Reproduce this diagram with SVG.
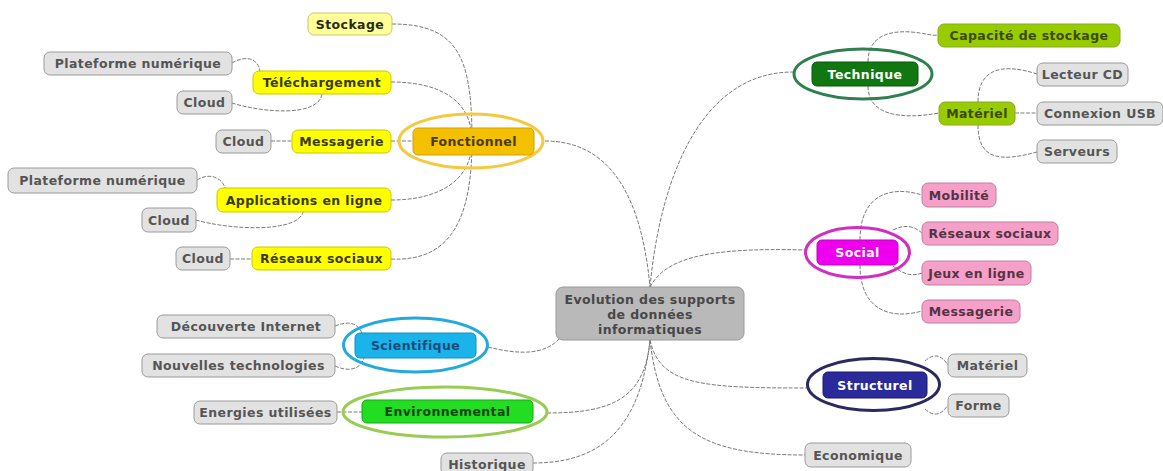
<svg xmlns="http://www.w3.org/2000/svg" width="1163" height="471" viewBox="0 0 1163 471">
<style>
text{font-family:"DejaVu Sans","Liberation Sans",sans-serif;font-weight:bold;font-size:12.5px;text-anchor:middle;dominant-baseline:central;letter-spacing:0.4px}
.c{fill:none;stroke:#7a7a7a;stroke-width:1;stroke-dasharray:4 1.5}
.gray rect{fill:#e2e2e2;stroke:#9a9a9a;stroke-width:1}
.gray text{fill:#555}
.yel rect{fill:#ffff00;stroke:#c8c800;stroke-width:1}
.yel text{fill:#3a3a10}
.pale rect{fill:#ffff99;stroke:#c8c870;stroke-width:1}
.pale text{fill:#2a2a10}
.lime rect{fill:#99cc00;stroke:#88aa22;stroke-width:1}
.lime text{fill:#3a4a00}
.pink rect{fill:#f4a0c8;stroke:#c080a0;stroke-width:1}
.pink text{fill:#553344}
.ell{fill:none;stroke-width:3}
</style>
<rect width="1163" height="471" fill="#ffffff"/>
<g id="connectors">
<path class="c" d="M545,141 C600,141 640,180 650,287"/>
<path class="c" d="M650,287 C660,180 700,72 793,72"/>
<path class="c" d="M650,287 C665,260 700,247 805,250"/>
<path class="c" d="M488,347 C520,355 545,355 560,338"/>
<path class="c" d="M547,413 C610,413 645,400 650,340"/>
<path class="c" d="M533,463 C600,463 640,430 650,340"/>
<path class="c" d="M650,340 C660,385 700,388 807,388"/>
<path class="c" d="M650,340 C660,430 700,455 805,455"/>
<path class="c" d="M392,24 C460,24 472,60 472,141"/>
<path class="c" d="M391,82 C440,82 472,100 472,141"/>
<path class="c" d="M391,141 L413,141"/>
<path class="c" d="M391,200 C440,200 472,180 472,141"/>
<path class="c" d="M391,259 C450,262 472,220 472,141"/>
<path class="c" d="M232,63 C245,55 258,58 260,71"/>
<path class="c" d="M232,103 C260,112 318,118 322,94"/>
<path class="c" d="M271,141 L292,141"/>
<path class="c" d="M197,180 C210,172 222,178 225,188"/>
<path class="c" d="M196,220 C230,230 298,233 303,212"/>
<path class="c" d="M230,259 L252,259"/>
<path class="c" d="M335,326 C350,320 358,324 362,333"/>
<path class="c" d="M335,366 C348,372 360,370 364,358"/>
<path class="c" d="M337,412 L362,412"/>
<path class="c" d="M868,62 C868,30 900,30 920,33 C928,34 932,36 938,35"/>
<path class="c" d="M868,86 C868,115 900,120 939,113"/>
<path class="c" d="M978,102 C978,70 1000,62 1037,74"/>
<path class="c" d="M1015,113 L1037,113"/>
<path class="c" d="M978,125 C978,160 1000,162 1037,152"/>
<path class="c" d="M860,240 C860,195 890,185 922,195"/>
<path class="c" d="M893,230 C905,224 914,226 922,233"/>
<path class="c" d="M893,266 C905,276 914,276 922,273"/>
<path class="c" d="M860,265 C860,310 890,320 922,311"/>
<path class="c" d="M925,361 C935,352 942,356 948,365"/>
<path class="c" d="M925,409 C935,418 942,414 948,405"/>
</g>
<g id="center">
<rect x="556" y="287" width="188" height="53" rx="7" fill="#b9b9b9" stroke="#999" stroke-width="1"/>
<text x="650" y="299" fill="#474747">Evolution des supports</text>
<text x="650" y="314" fill="#474747">de données</text>
<text x="650" y="329" fill="#474747">informatiques</text>
</g>
<g id="fonctionnel">
<ellipse class="ell" cx="471" cy="141" rx="72" ry="27" stroke="#f6c840"/>
<rect x="413" y="128" width="121" height="27" rx="5" fill="#f5c000" stroke="#d0a000"/>
<text x="473.5" y="141.5" fill="#4a3a00" font-size="14">Fonctionnel</text>
</g>
<g id="stockage" class="pale"><rect x="308" y="13" width="84" height="22" rx="6"/><text x="350" y="24">Stockage</text></g>
<g id="telechargement" class="yel"><rect x="253" y="71" width="138" height="23" rx="6"/><text x="322" y="82.5">Téléchargement</text></g>
<g id="plateforme1" class="gray"><rect x="44" y="52" width="188" height="23" rx="6"/><text x="138" y="63.5">Plateforme numérique</text></g>
<g id="cloud1" class="gray"><rect x="177" y="91" width="55" height="23" rx="6"/><text x="204.5" y="102.5">Cloud</text></g>
<g id="messagerie1" class="yel"><rect x="292" y="130" width="99" height="23" rx="6"/><text x="341.5" y="141.5">Messagerie</text></g>
<g id="cloud2" class="gray"><rect x="216" y="130" width="55" height="23" rx="6"/><text x="243.5" y="141.5">Cloud</text></g>
<g id="applications" class="yel"><rect x="217" y="188" width="174" height="24" rx="6"/><text x="304" y="200">Applications en ligne</text></g>
<g id="plateforme2" class="gray"><rect x="8" y="168" width="189" height="25" rx="6"/><text x="102.5" y="180.5">Plateforme numérique</text></g>
<g id="cloud3" class="gray"><rect x="142" y="208" width="54" height="24" rx="6"/><text x="169" y="220">Cloud</text></g>
<g id="reseaux1" class="yel"><rect x="252" y="247" width="139" height="23" rx="6"/><text x="321.5" y="258.5">Réseaux sociaux</text></g>
<g id="cloud4" class="gray"><rect x="176" y="247" width="54" height="23" rx="6"/><text x="203" y="258.5">Cloud</text></g>
<g id="scientifique">
<ellipse class="ell" cx="415.5" cy="345" rx="72" ry="27" stroke="#22aadd"/>
<rect x="355" y="333" width="121" height="25" rx="5" fill="#1ab4ea" stroke="#1090c0"/>
<text x="415.5" y="345.5" fill="#1a4a78" font-size="14">Scientifique</text>
</g>
<g id="decouverte" class="gray"><rect x="157" y="315" width="178" height="23" rx="6"/><text x="246" y="326.5">Découverte Internet</text></g>
<g id="nouvelles" class="gray"><rect x="142" y="354" width="193" height="23" rx="6"/><text x="238.5" y="365.5">Nouvelles technologies</text></g>
<g id="environnemental">
<ellipse class="ell" cx="445" cy="412" rx="102" ry="25" stroke="#99cc55"/>
<rect x="362" y="400" width="171" height="23" rx="5" fill="#22dd22" stroke="#11aa11"/>
<text x="447.5" y="411.5" fill="#114411" font-size="14">Environnemental</text>
</g>
<g id="energies" class="gray"><rect x="194" y="401" width="143" height="23" rx="6"/><text x="265.5" y="412.5">Energies utilisées</text></g>
<g id="historique" class="gray"><rect x="441" y="453" width="92" height="22" rx="6"/><text x="487" y="464">Historique</text></g>
<g id="technique">
<ellipse class="ell" cx="863" cy="74" rx="69" ry="25" stroke="#2f7f4f"/>
<rect x="812" y="62" width="106" height="24" rx="5" fill="#117711" stroke="#0a5a0a"/>
<text x="865" y="74" fill="#ffffff" font-size="14">Technique</text>
</g>
<g id="capacite" class="lime"><rect x="938" y="24" width="182" height="23" rx="6"/><text x="1029" y="35.5">Capacité de stockage</text></g>
<g id="materiel1" class="lime"><rect x="939" y="102" width="76" height="23" rx="6"/><text x="977" y="113.5">Matériel</text></g>
<g id="lecteur" class="gray"><rect x="1037" y="63" width="91" height="23" rx="6"/><text x="1082.5" y="74.5">Lecteur CD</text></g>
<g id="usb" class="gray"><rect x="1037" y="102" width="126" height="23" rx="6"/><text x="1100" y="113.5">Connexion USB</text></g>
<g id="serveurs" class="gray"><rect x="1037" y="140" width="80" height="23" rx="6"/><text x="1077" y="151.5">Serveurs</text></g>
<g id="social">
<ellipse class="ell" cx="857.5" cy="252.5" rx="52" ry="25" stroke="#d030c0"/>
<rect x="817" y="240" width="81" height="25" rx="5" fill="#ee00ee" stroke="#c000c0"/>
<text x="857.5" y="252.5" fill="#ffffff" font-size="14">Social</text>
</g>
<g id="mobilite" class="pink"><rect x="922" y="183" width="74" height="24" rx="6"/><text x="959" y="195">Mobilité</text></g>
<g id="reseaux2" class="pink"><rect x="922" y="222" width="136" height="23" rx="6"/><text x="990" y="233.5">Réseaux sociaux</text></g>
<g id="jeux" class="pink"><rect x="922" y="261" width="109" height="24" rx="6"/><text x="976.5" y="273">Jeux en ligne</text></g>
<g id="messagerie2" class="pink"><rect x="922" y="300" width="98" height="23" rx="6"/><text x="971" y="311.5">Messagerie</text></g>
<g id="structurel">
<ellipse class="ell" cx="873.5" cy="384.5" rx="66" ry="26" stroke="#2a2a60"/>
<rect x="823" y="372" width="104" height="26" rx="5" fill="#2a2a9a" stroke="#1a1a70"/>
<text x="875" y="385" fill="#ffffff" font-size="14">Structurel</text>
</g>
<g id="materiel2" class="gray"><rect x="948" y="354" width="79" height="23" rx="6"/><text x="987.5" y="365.5">Matériel</text></g>
<g id="forme" class="gray"><rect x="948" y="394" width="61" height="23" rx="6"/><text x="978.5" y="405.5">Forme</text></g>
<g id="economique" class="gray"><rect x="805" y="443" width="106" height="24" rx="6"/><text x="858" y="455">Economique</text></g>
</svg>
